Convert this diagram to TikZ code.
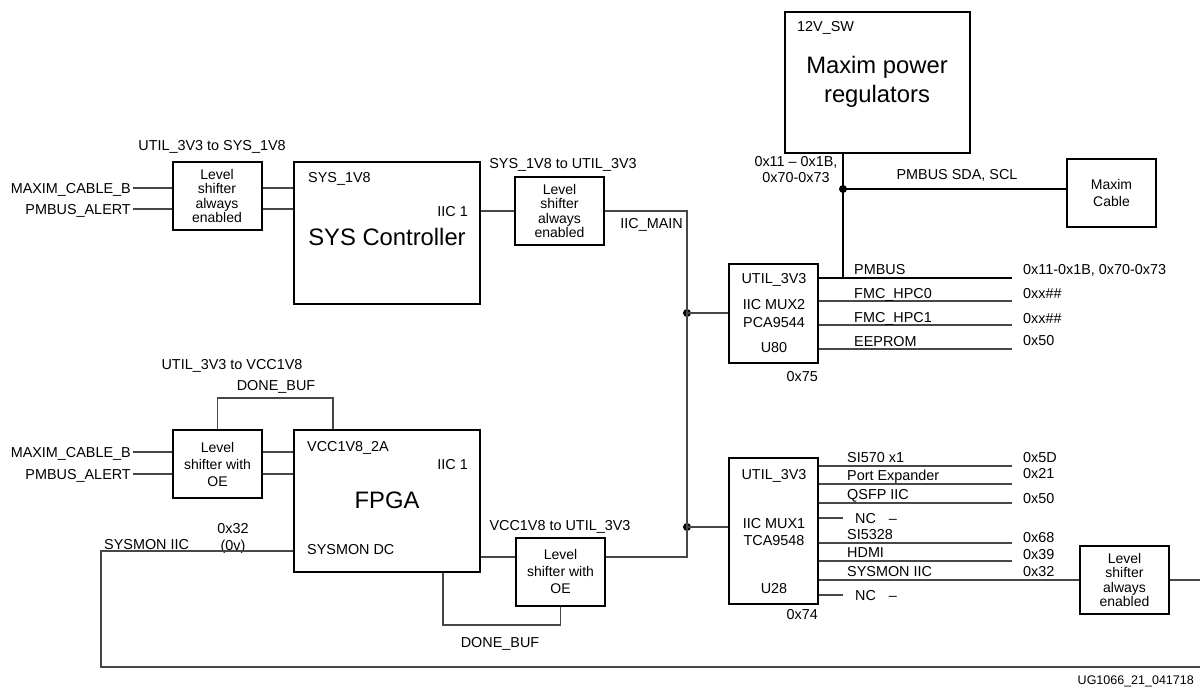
\documentclass[tikz,border=0pt]{standalone}
\usepackage{fontspec}
\setmainfont{Liberation Sans}

\begin{document}
\begin{tikzpicture}[
  x=1pt, y=-1pt,
  box/.style={
    draw=black,
    line width=2pt,
    inner sep=0pt
  },
  shifter/.style={
    box,
    minimum width=89pt,
    minimum height=68pt,
    align=center,
    font=\fontsize{14}{14.3}\selectfont
  },
  shifter oe/.style={
    shifter,
    font=\fontsize{14}{17}\selectfont
  },
  chip/.style={
    box,
    minimum width=186pt,
    minimum height=142pt
  },
  mux/.style={
    box,
    minimum width=89pt
  },
  sig/.style={
    inner xsep=2pt,
    inner ysep=0pt,
    text height=10.3pt,
    text depth=0pt,
    font=\fontsize{14.4}{16}\selectfont
  },
  title/.style={
    inner sep=0pt,
    align=center,
    font=\fontsize{23.8}{29}\selectfont
  },
  wire/.style={
    line width=1.1pt,
    draw=black!72
  },
  bus/.style={
    line width=2pt,
    draw=black
  },
  joint/.style={
    circle,
    fill=black,
    inner sep=0pt,
    minimum size=8pt
  }
]
\useasboundingbox (0,0) rectangle (1200,689);

\node[shifter] (lsSys) at (217,196) {Level\\shifter\\always\\enabled};
\node[shifter] (lsMain) at (559.5,211) {Level\\shifter\\always\\enabled};
\node[shifter oe] (lsFpga) at (217.5,464) {Level\\shifter with\\OE};
\node[shifter oe] (lsDc) at (560.5,571.5) {Level\\shifter with\\OE};
\node[shifter] (lsMon) at (1124.5,580) {Level\\shifter\\always\\enabled};

\node[chip] (sysctl) at (387,233) {};
\node[chip] (fpga) at (387,501) {};
\node[box, minimum width=185pt, minimum height=141pt] (maxreg) at (877.5,82.5) {};
\node[shifter oe] (cable) at (1111.5,193) {Maxim\\Cable};
\node[mux, minimum height=99pt] (mux2) at (773.5,313.5) {};
\node[mux, minimum height=146pt] (mux1) at (773.5,531) {};

\node[title] (sysName) at (387,237) {SYS Controller};
\node[title] (fpgaName) at (387,500) {FPGA};
\node[title] (maxName) at (877,82) {Maxim power\\regulators};

\node[sig, anchor=west] (sysPwr) at (306,177) {SYS\_1V8};
\node[sig, anchor=east] (sysIic) at (470,211) {IIC 1};
\node[sig, anchor=west] (fpgaPwr) at (305,446) {VCC1V8\_2A};
\node[sig, anchor=east] (fpgaIic) at (470,464) {IIC 1};
\node[sig, anchor=west] (fpgaDc) at (305,549) {SYSMON DC};
\node[sig, anchor=west] (maxPwr) at (795,26) {12V\_SW};

\node[sig] (mux2a) at (774,278) {UTIL\_3V3};
\node[sig] (mux2b) at (774,304) {IIC MUX2};
\node[sig] (mux2c) at (774,322) {PCA9544};
\node[sig] (mux2d) at (774,347) {U80};
\node[sig, anchor=east] (mux2adr) at (820,376) {0x75};
\node[sig] (mux1a) at (774,474) {UTIL\_3V3};
\node[sig] (mux1b) at (774,523) {IIC MUX1};
\node[sig] (mux1c) at (774,540) {TCA9548};
\node[sig] (mux1d) at (774,588) {U28};
\node[sig, anchor=east] (mux1adr) at (820,614) {0x74};

\node[sig] (lvlSys) at (212,145) {UTIL\_3V3 to SYS\_1V8};
\node[sig] (lvlMain) at (563,163) {SYS\_1V8 to UTIL\_3V3};
\node[sig, anchor=east] (iicMain) at (685,223) {IIC\_MAIN};
\node[sig] (lvlFpga) at (232,364) {UTIL\_3V3 to VCC1V8};
\node[sig] (doneTopTxt) at (276,385) {DONE\_BUF};
\node[sig] (lvlDc) at (560,525) {VCC1V8 to UTIL\_3V3};
\node[sig] (doneBotTxt) at (500,642) {DONE\_BUF};
\node[sig, anchor=west] (monTxt) at (102,544) {SYSMON IIC};
\node[sig] (monAdr) at (233,528) {0x32};
\node[sig] (monV) at (233,545) {(0v)};
\node[inner sep=0pt, align=center, font=\fontsize{14.4}{16}\selectfont] (pmAdr) at (796,170) {0x11 – 0x1B,\\0x70-0x73};
\node[sig] (pmTxt) at (957,174) {PMBUS SDA, SCL};
\node[inner sep=0pt, anchor=east, font=\fontsize{12.5}{14}\selectfont] (figId) at (1194,681) {UG1066\_21\_041718};

\node[sig, anchor=east] (cabSys) at (133,188) {MAXIM\_CABLE\_B};
\node[sig, anchor=east] (alrSys) at (133,209) {PMBUS\_ALERT};
\node[sig, anchor=east] (cabFpga) at (133,452) {MAXIM\_CABLE\_B};
\node[sig, anchor=east] (alrFpga) at (133,474) {PMBUS\_ALERT};

\foreach \n in {cabSys,alrSys} {
  \draw[wire] (\n.east) -- (\n.east -| lsSys.west)
    (\n.east -| lsSys.east) -- (\n.east -| sysctl.west);
}

\foreach \n in {cabFpga,alrFpga} {
  \draw[wire] (\n.east) -- (\n.east -| lsFpga.west)
    (\n.east -| lsFpga.east) -- (\n.east -| fpga.west);
}

\node[joint] (jMux2) at (687,313) {};
\node[joint] (jMux1) at (687,527) {};
\coordinate (dcLine) at (0,557);

\draw[wire] (sysctl.east |- lsMain) -- (lsMain.west);
\draw[wire] (lsMain.east) -| (jMux2.center) -- (jMux1.center)
  |- (lsDc.east |- dcLine);
\draw[wire] (fpga.east |- dcLine) -- (lsDc.west |- dcLine);
\draw[wire] (jMux2.center) -- (mux2.west |- jMux2);
\draw[wire] (jMux1.center) -- (mux1.west |- jMux1);

\coordinate (doneTop) at (333,398);
\coordinate (doneBot) at (443,625);
\draw[wire] (lsFpga.north) |- (doneTop) -- (doneTop |- fpga.north);
\draw[wire] (doneBot |- fpga.south) -- (doneBot) -| (lsDc.south);

\coordinate (monL) at (101,551);
\coordinate (monR) at (1200,667);
\draw[wire] (fpga.west |- monL) -- (monL) |- (monR);
\draw[wire] (mux1.east |- lsMon) -- (lsMon.west);
\draw[wire] (lsMon.east) -- (lsMon.east -| monR);

\node[joint] (jPm) at (843,189) {};
\coordinate (pmEnd) at (1012,278);
\draw[bus] (jPm |- maxreg.south) -- (jPm |- pmEnd)
  (mux2.east |- pmEnd) -- (pmEnd);
\draw[line width=1.6pt] (jPm.center) -- (cable.west |- jPm);
\node[sig, anchor=west] (pmName) at (852,269) {PMBUS};
\node[sig, anchor=west] (pmRange) at (1021,269) {0x11-0x1B, 0x70-0x73};

\foreach \y/\lbl/\addr/\ay in {301/FMC\_HPC0/0xx\#\#/293, 325/FMC\_HPC1/0xx\#\#/318, 349/EEPROM/0x50/340} {
  \coordinate (out\y) at (1012,\y);
  \draw[wire] (mux2.east |- out\y) -- (out\y);
  \node[sig, anchor=west] (lbl\y) at (852,\y-8) {\lbl};
  \node[sig, anchor=west] (adr\y) at (1021,\ay) {\addr};
}

\foreach \y/\lbl/\addr/\ay in {466/SI570 x1/0x5D/457, 484/Port Expander/0x21/473, 503/QSFP IIC/0x50/498, 543/SI5328/0x68/537, 561/HDMI/0x39/554} {
  \coordinate (out\y) at (1012,\y);
  \draw[wire] (mux1.east |- out\y) -- (out\y);
  \node[sig, anchor=west] (lbl\y) at (845,\y-9) {\lbl};
  \node[sig, anchor=west] (adr\y) at (1021,\ay) {\addr};
}
\node[sig, anchor=west] (lbl580) at (845,571) {SYSMON IIC};
\node[sig, anchor=west] (adr580) at (1021,571) {0x32};

\foreach \y in {518,595} {
  \coordinate (nc\y) at (843,\y);
  \draw[wire] (mux1.east |- nc\y) -- (nc\y);
  \node[sig, anchor=west] (ncTxt\y) at (853,\y) {NC\hspace{13pt}–};
}
\end{tikzpicture}
\end{document}
